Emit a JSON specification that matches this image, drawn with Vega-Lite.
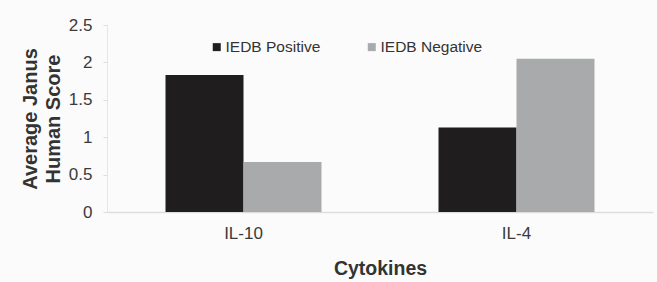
{
  "$schema": "https://vega.github.io/schema/vega-lite/v6.json",
  "autosize": "none",
  "width": 546,
  "height": 187,
  "padding": {"left": 107, "top": 25, "right": 4, "bottom": 70},
  "background": "#fbfbfb",
  "config": {
    "view": {"stroke": null},
    "font": "Liberation Sans"
  },
  "data": {
    "values": [
      {"cytokine": "IL-10", "group": "IEDB Positive", "score": 1.83},
      {"cytokine": "IL-10", "group": "IEDB Negative", "score": 0.67},
      {"cytokine": "IL-4", "group": "IEDB Positive", "score": 1.13},
      {"cytokine": "IL-4", "group": "IEDB Negative", "score": 2.05}
    ]
  },
  "mark": {"type": "bar"},
  "encoding": {
    "x": {
      "field": "cytokine",
      "type": "nominal",
      "sort": ["IL-10", "IL-4"],
      "scale": {"paddingInner": 0.4286, "paddingOuter": 0.2143},
      "axis": {
        "title": "Cytokines",
        "titleFontSize": 19.5,
        "titleFontWeight": "bold",
        "titleColor": "#333333",
        "titlePadding": 18,
        "labelAngle": 0,
        "labelFontSize": 17,
        "labelColor": "#3a3a3a",
        "labelPadding": 13,
        "ticks": false,
        "domainColor": "#dddddd",
        "domainWidth": 1.5
      }
    },
    "xOffset": {"field": "group", "type": "nominal", "sort": ["IEDB Positive", "IEDB Negative"]},
    "y": {
      "field": "score",
      "type": "quantitative",
      "scale": {"domain": [0, 2.5]},
      "axis": {
        "title": ["Average Janus", "Human Score"],
        "titleFontSize": 20,
        "titleFontWeight": "bold",
        "titleColor": "#333333",
        "titleLineHeight": 23,
        "titlePadding": 5,
        "values": [0, 0.5, 1, 1.5, 2, 2.5],
        "format": "~g",
        "grid": false,
        "labelFontSize": 17,
        "labelColor": "#3a3a3a",
        "labelPadding": 11,
        "tickSize": 4,
        "tickColor": "#dddddd",
        "domainColor": "#e6e6e6"
      }
    },
    "color": {
      "field": "group",
      "type": "nominal",
      "sort": ["IEDB Positive", "IEDB Negative"],
      "scale": {"domain": ["IEDB Positive", "IEDB Negative"], "range": ["#1f1d1e", "#a9aaac"]},
      "legend": {
        "title": null,
        "orient": "none",
        "legendX": 102,
        "legendY": 14,
        "direction": "horizontal",
        "symbolType": "square",
        "symbolSize": 64,
        "symbolStrokeWidth": 0,
        "labelFontSize": 15.5,
        "labelColor": "#333333",
        "columnPadding": 43,
        "labelOffset": 1
      }
    }
  }
}
